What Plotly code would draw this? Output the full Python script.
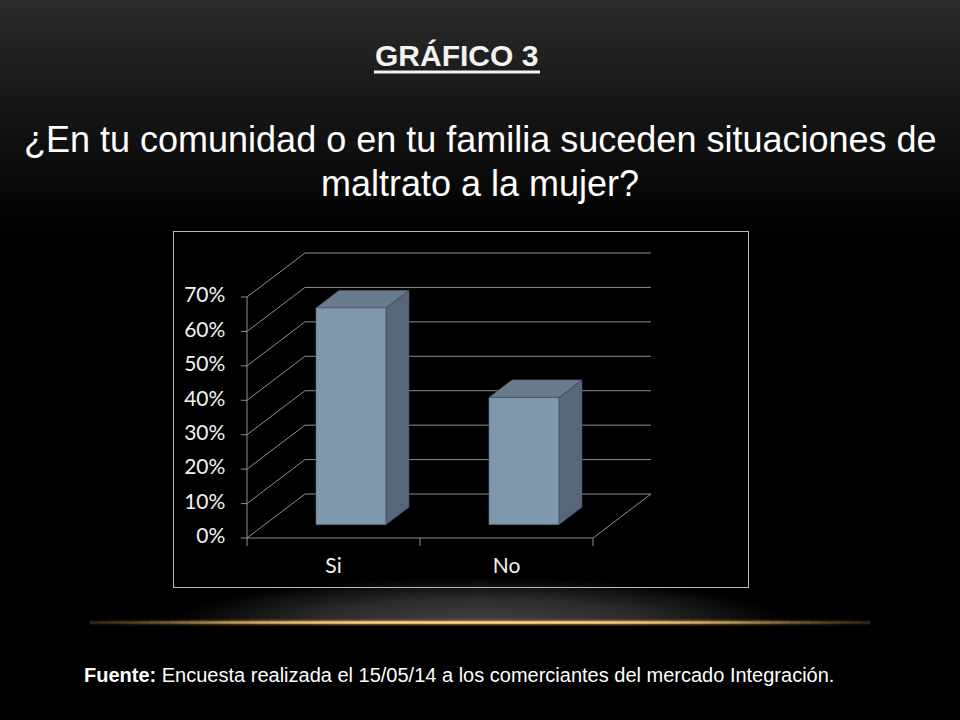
import math
import plotly.graph_objects as go

# ---------------- data ----------------
categories = ["Si", "No"]
values = [63, 37]                      # percent
tick_values = [0, 10, 20, 30, 40, 50, 60, 70]
tick_labels = ["0%", "10%", "20%", "30%", "40%", "50%", "60%", "70%"]

title_text = "GRÁFICO 3"
question_line1 = "¿En tu comunidad o en tu familia suceden situaciones de"
question_line2 = "maltrato a la mujer?"
source_bold = "Fuente:"
source_text = " Encuesta realizada el 15/05/14 a los comerciantes del mercado Integración."

# ---------------- geometry / style ----------------
W, H = 960, 720
BOX_L, BOX_T, BOX_R, BOX_B = 174, 232, 748, 587
X_RANGE = [-0.422, 2.896]
Y_RANGE = [-14.23, 88.88]
DX, DY = 0.335, 12.78          # oblique depth offset (data units)
BAR_W = 0.405
F0, F1 = 0.30, 0.70            # bar depth span (fraction of floor depth)
GRID = "#8e8e8e"
FRONT_C = "#7f98ae"
TOP_C = "#6b7b8e"
SIDE_C = "#56677a"
EDGE_C = "rgba(55,65,80,0.7)"
NARROW = "Liberation Sans Narrow, Arial Narrow, Liberation Sans, Arial, sans-serif"
LABEL_FONT = "Lato, Carlito, Calibri, sans-serif"

def px(x):
    return x / W

def py(y):
    return 1 - y / H

fig = go.Figure()

ncat = len(categories)
top = max(tick_values)

def seg_trace(xs, ys, color=GRID, width=1):
    return go.Scatter(x=xs, y=ys, mode="lines", line=dict(color=color, width=width),
                      hoverinfo="skip", showlegend=False)

# back wall gridlines
gx, gy = [], []
for t in tick_values:
    gx += [DX, ncat + DX, None]
    gy += [t + DY, t + DY, None]
fig.add_trace(seg_trace(gx, gy))

# left wall diagonals
dx_, dy_ = [], []
for t in tick_values:
    dx_ += [0, DX, None]
    dy_ += [t, t + DY, None]
fig.add_trace(seg_trace(dx_, dy_))

# front value axis + tick marks
ax, ay = [0, 0, None], [0, top, None]
for t in tick_values:
    ax += [-0.035, 0, None]
    ay += [t, t, None]
fig.add_trace(seg_trace(ax, ay))

# floor front edge, right edge, category ticks
fx, fy = [0, ncat, ncat + DX, None], [0, 0, DY, None]
for i in range(ncat + 1):
    fx += [i, i, None]
    fy += [0, -2.3, None]
fig.add_trace(seg_trace(fx, fy))

# bars (front, side, top faces)
for i, (c, v) in enumerate(zip(categories, values)):
    cx = i + 0.5
    xl, xr = cx - BAR_W / 2, cx + BAR_W / 2
    fig.add_trace(go.Scatter(
        x=[xr + F0 * DX, xr + F1 * DX, xr + F1 * DX, xr + F0 * DX, xr + F0 * DX],
        y=[F0 * DY, F1 * DY, v + F1 * DY, v + F0 * DY, F0 * DY],
        mode="lines", fill="toself", fillcolor=SIDE_C,
        line=dict(color=EDGE_C, width=0.6), hoverinfo="skip", showlegend=False))
    fig.add_trace(go.Scatter(
        x=[xl + F0 * DX, xr + F0 * DX, xr + F1 * DX, xl + F1 * DX, xl + F0 * DX],
        y=[v + F0 * DY, v + F0 * DY, v + F1 * DY, v + F1 * DY, v + F0 * DY],
        mode="lines", fill="toself", fillcolor=TOP_C,
        line=dict(color=EDGE_C, width=0.6), hoverinfo="skip", showlegend=False))
    fig.add_trace(go.Scatter(
        x=[xl + F0 * DX, xr + F0 * DX, xr + F0 * DX, xl + F0 * DX, xl + F0 * DX],
        y=[F0 * DY, F0 * DY, v + F0 * DY, v + F0 * DY, F0 * DY],
        mode="lines", fill="toself", fillcolor=FRONT_C,
        line=dict(color=EDGE_C, width=0.6), hoverinfo="skip", showlegend=False))

# value tick labels
fig.add_trace(go.Scatter(
    x=[-0.125] * len(tick_values), y=tick_values, text=tick_labels,
    mode="text", textposition="middle left",
    textfont=dict(family=LABEL_FONT, size=21, color="#f2f2f2"),
    hoverinfo="skip", showlegend=False))

# category labels
fig.add_trace(go.Scatter(
    x=[i + 0.5 for i in range(ncat)], y=[-8.7] * ncat, text=categories,
    mode="text", textposition="middle center",
    textfont=dict(family=LABEL_FONT, size=21, color="#f2f2f2"),
    hoverinfo="skip", showlegend=False))

# ---------------- background decoration ----------------
shapes = []
NB = 60
for k in range(NB):
    y0, y1 = k * 4, (k + 1) * 4 + 1
    v = int(round(43 * (1 - (k + 0.5) / NB) ** 1.1))
    shapes.append(dict(type="rect", xref="paper", yref="paper", layer="below",
                       x0=0, x1=1, y0=py(y1), y1=py(y0),
                       fillcolor=f"rgb({v},{v},{v})", line=dict(width=0)))

# glow above the golden line
GC_X, GC_Y = 480, 622
NG = 40
for k in range(NG):
    f = 1 - k / NG
    rx, ry = 30 + 270 * f, 4 + 40 * f
    shapes.append(dict(type="circle", xref="paper", yref="paper", layer="below",
                       x0=px(GC_X - rx), x1=px(GC_X + rx),
                       y0=py(GC_Y + ry), y1=py(GC_Y - ry),
                       fillcolor="rgba(130,130,130,0.023)", line=dict(width=0)))
shapes.append(dict(type="rect", xref="paper", yref="paper", layer="below",
                   x0=0, x1=1, y0=0, y1=py(624),
                   fillcolor="black", line=dict(width=0)))

# golden line
for xs in range(90, 870, 10):
    d = abs(xs + 5 - 480)
    p = math.exp(-(d / 310.0) ** 3)
    shapes.append(dict(type="line", xref="paper", yref="paper", layer="below",
                       x0=px(xs), x1=px(xs + 10), y0=py(622.5), y1=py(622.5),
                       line=dict(color=f"rgba(200,130,45,{0.55 * p:.3f})", width=6)))
    shapes.append(dict(type="line", xref="paper", yref="paper", layer="below",
                       x0=px(xs), x1=px(xs + 10), y0=py(622.5), y1=py(622.5),
                       line=dict(color=f"rgba(250,215,140,{p:.3f})", width=2.5)))

# title underline
shapes.append(dict(type="line", xref="paper", yref="paper",
                   x0=px(374), x1=px(540), y0=py(72), y1=py(72),
                   line=dict(color="#f2f2f2", width=3)))

annotations = [
    dict(text=f"<b>{title_text}</b>", x=px(456), y=py(56), xref="paper", yref="paper",
         xanchor="center", yanchor="middle", showarrow=False,
         font=dict(family=NARROW, size=30, color="#f2f2f2")),
    dict(text=question_line1, x=px(480), y=py(140), xref="paper", yref="paper",
         xanchor="center", yanchor="middle", showarrow=False,
         font=dict(family=NARROW, size=36, color="#ffffff")),
    dict(text=question_line2, x=px(480), y=py(183), xref="paper", yref="paper",
         xanchor="center", yanchor="middle", showarrow=False,
         font=dict(family=NARROW, size=36, color="#ffffff")),
    dict(text=f"<b>{source_bold}</b>{source_text}", x=px(82), y=py(675),
         xref="paper", yref="paper", xanchor="left", yanchor="middle", showarrow=False,
         font=dict(family=NARROW, size=20, color="#ffffff")),
]

fig.update_layout(
    width=W, height=H,
    margin=dict(l=0, r=0, t=0, b=0),
    paper_bgcolor="black",
    plot_bgcolor="rgba(0,0,0,0)",
    shapes=shapes,
    annotations=annotations,
    showlegend=False,
    xaxis=dict(domain=[px(BOX_L), px(BOX_R)], range=X_RANGE, showgrid=False,
               zeroline=False, showticklabels=False, ticks="", showline=True,
               mirror=True, linecolor="#b3b9c3", linewidth=1, fixedrange=True),
    yaxis=dict(domain=[py(BOX_B), py(BOX_T)], range=Y_RANGE, showgrid=False,
               zeroline=False, showticklabels=False, ticks="", showline=True,
               mirror=True, linecolor="#b3b9c3", linewidth=1, fixedrange=True),
)

fig.write_html(
    "out.html",
    config={"displayModeBar": False},
    post_script="document.body.style.margin='0';document.body.style.padding='0';"
                "document.documentElement.style.background='black';",
)
